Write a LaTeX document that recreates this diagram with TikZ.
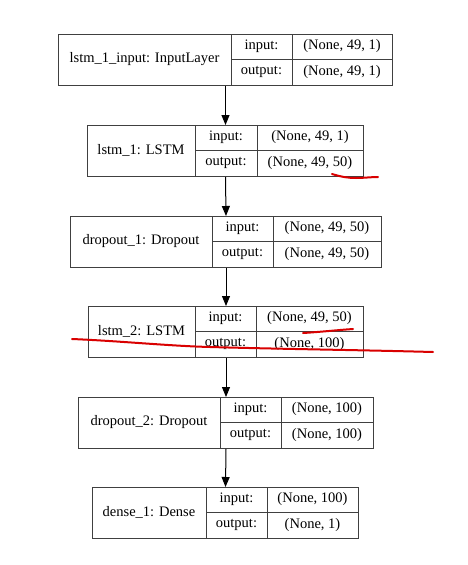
\documentclass[tikz,border=0pt]{standalone}
\usepackage{fontspec}
\setmainfont{Liberation Serif}
\usetikzlibrary{arrows.meta}
\tikzset{
  boxframe/.style={draw=black!75, line width=1pt, rectangle, inner sep=0pt, anchor=north west, minimum height=51pt},
  cellline/.style={draw=black!75, line width=1pt},
  celltext/.style={font=\fontsize{14.5}{16}\selectfont, text=black, inner sep=0pt},
  arr/.style={draw=black, line width=1pt, -{Triangle[width=8pt,length=10pt]}},
  redmark/.style={draw=red!85!black, line width=2pt, line cap=round, line join=round}
}
% #1 name, #2 left, #3 right, #4 top, #5 divider1, #6 divider2, #7 label, #8 input, #9 output
\newcommand\layerbox[9]{%
  \node[boxframe, minimum width={#3-#2}] (#1) at (#2,#4) {};
  \draw[cellline] (#5,#4) -- (#5,{#4+51});
  \draw[cellline] (#6,#4) -- (#6,{#4+51});
  \draw[cellline] (#5,{#4+25.5}) -- (#3,{#4+25.5});
  \node[celltext] (#1-l) at ({(#2+#5)/2},{#4+25.5}) {#7};
  \node[celltext] (#1-ik) at ({(#5+#6)/2},{#4+12.5}) {input:};
  \node[celltext] (#1-ok) at ({(#5+#6)/2},{#4+38}) {output:};
  \node[celltext] (#1-iv) at ({(#6+#3)/2},{#4+12.5}) {#8};
  \node[celltext] (#1-ov) at ({(#6+#3)/2},{#4+38}) {#9};
}
\begin{document}
\begin{tikzpicture}[x=1pt,y=-1pt]
\useasboundingbox (0,0) rectangle (468,565);
\fill[white] (0,0) rectangle (468,565);
\layerbox{b1}{58}{392}{34}{231}{292}{lstm\_1\_input: InputLayer}{(None, 49, 1)}{(None, 49, 1)}
\layerbox{b2}{87}{363}{125}{195}{257}{lstm\_1: LSTM}{(None, 49, 1)}{(None, 49, 50)}
\layerbox{b3}{70}{381}{216}{212}{273}{dropout\_1: Dropout}{(None, 49, 50)}{(None, 49, 50)}
\layerbox{b4}{88}{363}{306}{195}{256}{lstm\_2: LSTM}{(None, 49, 50)}{(None, 100)}
\layerbox{b5}{78}{373}{397}{220}{281}{dropout\_2: Dropout}{(None, 100)}{(None, 100)}
\layerbox{b6}{92}{358}{487}{206}{267}{dense\_1: Dense}{(None, 100)}{(None, 1)}
\draw[arr] (b1.south) -- (b2.north);
\draw[arr] (b2.south) -- (b3.north);
\draw[arr] (b3.south) -- (b4.north);
\draw[arr] (b4.south) -- (b5.north);
\draw[arr] (b5.south) -- (b6.north);
% red hand-drawn marks
\draw[redmark] (332,174) .. controls (342,177) and (348,178) .. (356,178) .. controls (364,178) and (371,177) .. (378,177);
\draw[redmark] (303,333) .. controls (320,332) and (338,330) .. (353,329);
\draw[redmark] (72,339) .. controls (120,341) and (170,346) .. (210,347) .. controls (280,349) and (360,350) .. (433,352);
\end{tikzpicture}
\end{document}
